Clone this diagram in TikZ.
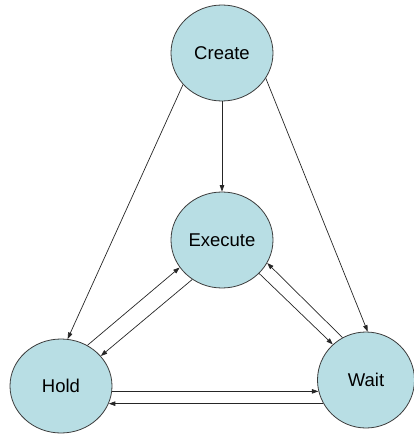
\documentclass[tikz,border=0pt]{standalone}
\usepackage{fontspec}
\setmainfont{Liberation Sans}
\usetikzlibrary{shapes.geometric,arrows.meta}
\definecolor{statefill}{RGB}{184,222,228}
\definecolor{edgegray}{RGB}{60,60,60}
\begin{document}
\begin{tikzpicture}[x=1pt,y=-1pt,
  state/.style={ellipse,draw=edgegray,line width=0.8pt,fill=statefill,inner sep=0pt,
    minimum width=102pt,minimum height=96pt,font=\fontsize{18.5}{20}\selectfont},
  arr/.style={draw=black!85,line width=0.7pt,-{Triangle[length=6.5pt,width=4.5pt]}}]
\useasboundingbox (0,0) rectangle (414,434);
\node[state] (create) at (222,53) {Create};
\node[state] (execute) at (222,240) {Execute};
\node[state,minimum height=94pt] (hold) at (61,386) {Hold};
\node[state,minimum width=97pt] (wait) at (366,380) {Wait};
\draw[arr] (create.270) -- (execute.90);
\draw[arr] (create.219) -- (hold.82);
\draw[arr] (create.330) -- (wait.88);
\draw[arr] (hold.57) -- (execute.213);
\draw[arr] (execute.233) -- (hold.37);
\draw[arr] (execute.318) -- (wait.133);
\draw[arr] (wait.119) -- (execute.333);
\draw[arr] (hold.354) -- (hold.354 -| wait.193);
\draw[arr] (wait.209) -- (wait.209 -| hold.340);
\end{tikzpicture}
\end{document}
